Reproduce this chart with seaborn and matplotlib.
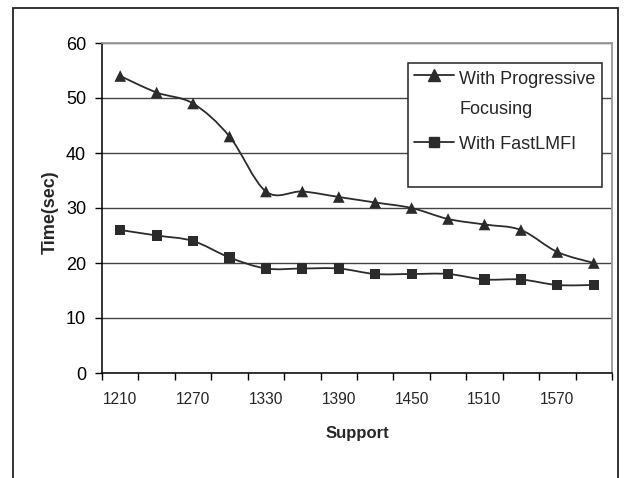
import numpy as np
import pandas as pd
import seaborn as sns
import matplotlib.pyplot as plt
from matplotlib.path import Path
from matplotlib.patches import PathPatch, Rectangle
from matplotlib.lines import Line2D
from matplotlib.legend_handler import HandlerLine2D

sns.set_style("ticks")
plt.rcParams['font.family'] = ['Liberation Sans', 'DejaVu Sans']

### data
support = [1210, 1240, 1270, 1300, 1330, 1360, 1390, 1420, 1450, 1480, 1510, 1540, 1570, 1600]
progressive = [54, 51, 49, 43, 33, 33, 32, 31, 30, 28, 27, 26, 22, 20]
fastlmfi = [26, 25, 24, 21, 19, 19, 19, 18, 18, 18, 17, 17, 16, 16]
shown_ticks = ["1210", "1270", "1330", "1390", "1450", "1510", "1570"]
series_names = ["With Progressive\nFocusing", "With FastLMFI"]

ink = "#2b2b2b"


class FirstLineHandler(HandlerLine2D):
    # put the legend handle next to the first line of a two-line label
    def __init__(self, lift=0, **kw):
        super().__init__(**kw)
        self.lift = lift

    def create_artists(self, legend, orig_handle, xdescent, ydescent,
                       width, height, fontsize, trans):
        return super().create_artists(legend, orig_handle, xdescent,
                                      ydescent - 2 * self.lift, width, height,
                                      fontsize, trans)


def smooth_path(xs, ys):
    # Excel-style smoothed line: cubic bezier through every data point
    pts = np.column_stack([xs, ys]).astype(float)
    n = len(pts)
    verts = [pts[0]]
    codes = [Path.MOVETO]
    for i in range(n - 1):
        p0 = pts[max(i - 1, 0)]
        p1 = pts[i]
        p2 = pts[i + 1]
        p3 = pts[min(i + 2, n - 1)]
        c1 = p1 + (p2 - p0) / 6.0
        c2 = p2 - (p3 - p1) / 6.0
        verts += [c1, c2, p2]
        codes += [Path.CURVE4] * 3
    return Path(verts, codes)


def main():
    df = pd.DataFrame({"pos": np.arange(len(support)), "support": support,
                       "prog": progressive, "fast": fastlmfi})

    fig = plt.figure(figsize=(6.25, 4.78), dpi=100)
    ax = fig.add_axes([102 / 625, 105 / 478, 510 / 625, 330 / 478])

    # outer chart frame
    fig.patches.append(Rectangle((12.5 / 625, -0.05), 605 / 625, (478 - 7.5) / 478 + 0.05,
                                 transform=fig.transFigure, fill=False,
                                 edgecolor="#222222", lw=1.3, zorder=0))

    ax.set_axisbelow(True)
    ax.yaxis.grid(True, color="#444444", lw=1)

    for col, mk, ms in [("prog", "^", 70), ("fast", "s", 52)]:
        ax.add_patch(PathPatch(smooth_path(df["pos"], df[col]), fill=False,
                               edgecolor=ink, lw=1.3, zorder=2))
        sns.scatterplot(data=df, x="pos", y=col, marker=mk, s=ms, color=ink,
                        edgecolor="none", ax=ax, zorder=3)

    ax.set_xlim(-0.5, len(support) - 0.5)
    ax.set_ylim(0, 60)
    ax.set_yticks(range(0, 61, 10))
    ax.tick_params(axis="y", labelsize=13, length=5, width=1, pad=6.5, colors="black")

    ax.set_xticks(np.arange(0, len(support), 2))
    ax.set_xticklabels(shown_ticks)
    ax.set_xticks(np.arange(-0.5, len(support), 1), minor=True)
    ax.tick_params(axis="x", which="major", labelsize=11.2, length=0, pad=14)
    ax.tick_params(axis="x", which="minor", length=5, width=1, color="black")

    ax.set_xlabel("Support", fontsize=12, fontweight="bold")
    ax.set_ylabel("Time(sec)", fontsize=13, fontweight="bold")
    ax.xaxis.set_label_coords(0.5, -0.16)
    ax.yaxis.set_label_coords(-0.085, 0.488)

    for s in ["left", "bottom"]:
        ax.spines[s].set_color("black")
        ax.spines[s].set_linewidth(1.1)
    for s in ["top", "right"]:
        ax.spines[s].set_color("#999999")
        ax.spines[s].set_linewidth(1.3)

    # legend box like Excel's
    ax.add_patch(Rectangle((306 / 510, 186 / 330), 194 / 510, 124 / 330,
                           transform=ax.transAxes, facecolor="white",
                           edgecolor="#222222", lw=1.1, zorder=4))
    h_prog = Line2D([], [], color=ink, lw=1.3, marker="^", markersize=8)
    h_fast = Line2D([], [], color=ink, lw=1.3, marker="s", markersize=7)
    leg = ax.legend([h_prog, h_fast], series_names, loc="upper left",
                    bbox_to_anchor=(312 / 510, 1 - 28 / 330), frameon=False,
                    fontsize=13, handlelength=2.2, handletextpad=0.3,
                    borderpad=0, borderaxespad=0, labelspacing=1.0,
                    handler_map={h_prog: FirstLineHandler(lift=14)})
    leg.get_texts()[0].set_linespacing(1.97)
    leg.set_zorder(5)

    fig.savefig("out.png", dpi=100)


if __name__ == "__main__":
    main()
